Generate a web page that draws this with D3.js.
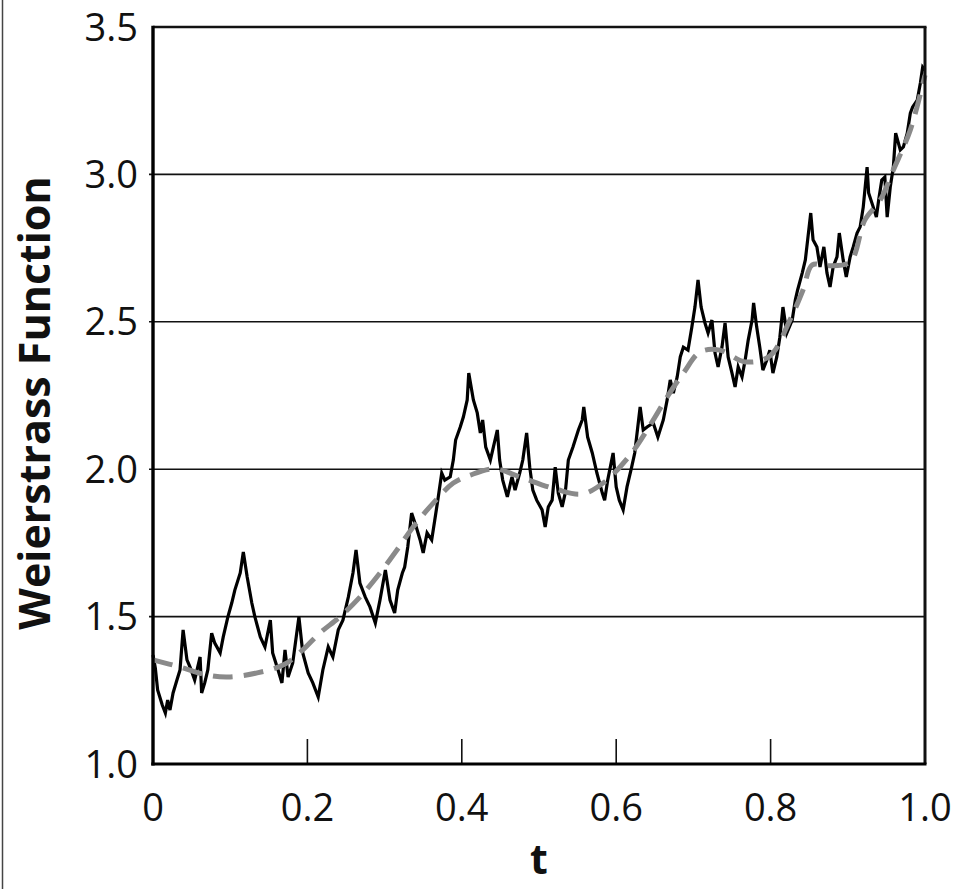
<!DOCTYPE html>
<html>
<head>
<meta charset="utf-8">
<script src="https://cdn.jsdelivr.net/npm/d3@7"></script>
<style>
  html, body { margin: 0; padding: 0; background: #fff; }
  #chart svg { display: block; }
  .tick-label { font-family: "Open Sans", "Noto Sans", sans-serif; font-size: 38px; fill: #111; }
  .axis-title { font-family: "Open Sans", "Noto Sans", sans-serif; font-weight: bold; font-size: 43px; fill: #111; }
</style>
</head>
<body>
<div id="chart"></div>
<script>
// Weierstrass function (black, jagged) + smooth fit (grey dashes)
// values

const xTicks = [0, 0.2, 0.4, 0.6, 0.8, 1.0];
const xTickLabels = ["0", "0.2", "0.4", "0.6", "0.8", "1.0"];
const yTicks = [1.0, 1.5, 2.0, 2.5, 3.0, 3.5];
const yTickLabels = ["1.0", "1.5", "2.0", "2.5", "3.0", "3.5"];

// black curve : t / value
const wT = [
  0, .003, .006, .012, .016, .019, .022, .026, .031, .035, .039, .044, .048, .054, .061, .063, .067, .071, .076, .080,
  .087, .091, .097, .102, .106, .113, .117, .122, .128, .132, .139, .145, .152, .155, .162, .167, .171, .175, .181, .189,
  .194, .201, .207, .214, .220, .227, .233, .240, .246, .253, .259, .263, .268, .275, .281, .288, .294, .301, .307, .313,
  .317, .323, .326, .330, .335, .341, .346, .350, .355, .361, .365, .369, .374, .378, .385, .389, .392, .398, .402, .407,
  .409, .415, .420, .424, .427, .431, .437, .440, .446, .449, .453, .459, .465, .469, .475, .479, .484, .488, .492, .497,
  .504, .508, .512, .517, .521, .525, .530, .534, .538, .544, .551, .556, .558, .563, .569, .575, .582, .585, .589, .596,
  .600, .604, .609, .614, .620, .624, .631, .635, .640, .648, .654, .661, .666, .670, .674, .679, .683, .687, .693, .698,
  .702, .706, .710, .715, .719, .724, .728, .732, .737, .741, .745, .750, .754, .758, .763, .767, .771, .776, .778, .782,
  .786, .790, .795, .799, .803, .808, .812, .816, .821, .828, .832, .835, .841, .845, .848, .852, .855, .860, .864, .869,
  .873, .877, .881, .886, .889, .894, .898, .903, .907, .912, .916, .920, .925, .927, .933, .937, .940, .944, .948, .951,
  .955, .959, .962, .968, .972, .977, .981, .984, .990, .994, .997, 1.0
];
const wV = [
  1.370, 1.326, 1.251, 1.200, 1.173, 1.217, 1.183, 1.241, 1.285, 1.319, 1.455, 1.353, 1.329, 1.285, 1.363, 1.241, 1.275, 1.319, 1.444, 1.410,
  1.377, 1.431, 1.499, 1.546, 1.590, 1.648, 1.719, 1.634, 1.546, 1.499, 1.431, 1.397, 1.488, 1.377, 1.319, 1.275, 1.387, 1.295, 1.343, 1.499,
  1.377, 1.309, 1.275, 1.227, 1.319, 1.397, 1.363, 1.455, 1.488, 1.566, 1.648, 1.726, 1.614, 1.566, 1.533, 1.478, 1.556, 1.658, 1.556, 1.512,
  1.590, 1.648, 1.668, 1.736, 1.851, 1.804, 1.760, 1.716, 1.784, 1.760, 1.828, 1.896, 1.987, 1.963, 1.974, 2.031, 2.099, 2.143, 2.177, 2.235,
  2.326, 2.235, 2.191, 2.123, 2.167, 2.075, 2.031, 2.065, 2.133, 2.031, 1.963, 1.906, 1.974, 1.929, 1.987, 2.031, 2.123, 2.007, 1.929, 1.895,
  1.862, 1.804, 1.872, 1.895, 2.007, 1.919, 1.872, 1.919, 2.031, 2.075, 2.133, 2.167, 2.211, 2.109, 2.055, 1.987, 1.919, 1.895, 1.963, 2.055,
  1.940, 1.895, 1.862, 1.940, 2.007, 2.055, 2.211, 2.133, 2.143, 2.157, 2.109, 2.167, 2.235, 2.303, 2.258, 2.313, 2.381, 2.414, 2.404, 2.482,
  2.550, 2.642, 2.550, 2.496, 2.462, 2.506, 2.394, 2.347, 2.414, 2.496, 2.381, 2.326, 2.279, 2.347, 2.313, 2.370, 2.438, 2.506, 2.564, 2.482,
  2.414, 2.336, 2.370, 2.404, 2.326, 2.381, 2.448, 2.550, 2.462, 2.506, 2.574, 2.608, 2.666, 2.710, 2.778, 2.869, 2.778, 2.754, 2.686, 2.754,
  2.666, 2.618, 2.686, 2.720, 2.801, 2.710, 2.652, 2.720, 2.754, 2.801, 2.822, 2.889, 3.025, 2.937, 2.889, 2.855, 2.913, 2.981, 2.991, 2.855,
  2.957, 3.025, 3.140, 3.083, 3.093, 3.140, 3.208, 3.229, 3.252, 3.310, 3.364, 3.354
];

// grey dashed fit : t / value
const fitT = [0, .035, .070, .097, .135, .171, .194, .216, .242, .268, .294, .316, .337, .363, .389, .411, .443, .475, .521, .556,
  .585, .618, .644, .666, .687, .709, .734, .767, .799, .825, .842, .854, .874, .903, .922, .942, .959, .981, 1.0];
const fitV = [1.353, 1.329, 1.302, 1.295, 1.309, 1.339, 1.387, 1.444, 1.499, 1.566, 1.648, 1.726, 1.804, 1.885, 1.953, 1.980, 2.001, 1.974, 1.933, 1.916,
  1.957, 2.048, 2.150, 2.245, 2.326, 2.398, 2.404, 2.364, 2.384, 2.506, 2.608, 2.693, 2.690, 2.703, 2.845, 2.913, 3.015, 3.151, 3.337];

const W = 957, H = 889;
const margin = { top: 27, right: 32, bottom: 125, left: 153 };

const svg = d3.select("#chart").append("svg")
  .attr("width", W).attr("height", H)
  .attr("viewBox", [0, 0, W, H]);

const x = d3.scaleLinear().domain([0, 1]).range([margin.left, W - margin.right]);
const y = d3.scaleLinear().domain([1, 3.5]).range([H - margin.bottom, margin.top]);

// outer picture border (left edge)
svg.append("line")
  .attr("x1", 2.5).attr("x2", 2.5).attr("y1", 0).attr("y2", H)
  .attr("stroke", "#444").attr("stroke-width", 1.5);

// gridlines
svg.append("g")
  .selectAll("line")
  .data(yTicks.slice(1, -1))
  .join("line")
    .attr("x1", x(0) - 4).attr("x2", x(1))
    .attr("y1", d => y(d)).attr("y2", d => y(d))
    .attr("stroke", "#111").attr("stroke-width", 1.6);

// bottom ticks pointing up into the plot
svg.append("g")
  .selectAll("line")
  .data(xTicks.slice(1, -1))
  .join("line")
    .attr("x1", d => x(d)).attr("x2", d => x(d))
    .attr("y1", y(1)).attr("y2", y(1) - 25)
    .attr("stroke", "#111").attr("stroke-width", 1.6);

// curves
const line = d3.line().x(d => x(d[0])).y(d => y(d[1]));

svg.append("path")
  .datum(d3.zip(wT, wV))
  .attr("d", line)
  .attr("fill", "none")
  .attr("stroke", "#000")
  .attr("stroke-width", 3.2)
  .attr("stroke-linejoin", "miter");

svg.append("path")
  .datum(d3.zip(fitT, fitV))
  .attr("d", line.curve(d3.curveCatmullRom))
  .attr("fill", "none")
  .attr("stroke", "#8a8a8a")
  .attr("stroke-width", 5)
  .attr("stroke-dasharray", "20,11");

// frame
svg.append("line") // top
  .attr("x1", x(0)).attr("x2", x(1) + 1.5).attr("y1", y(3.5)).attr("y2", y(3.5))
  .attr("stroke", "#111").attr("stroke-width", 2.4);
svg.append("line") // right
  .attr("x1", x(1)).attr("x2", x(1)).attr("y1", y(3.5)).attr("y2", y(1))
  .attr("stroke", "#111").attr("stroke-width", 3);
svg.append("line") // left axis
  .attr("x1", x(0)).attr("x2", x(0)).attr("y1", y(3.5) - 1.2).attr("y2", y(1) + 1.5)
  .attr("stroke", "#000").attr("stroke-width", 3.4);
svg.append("line") // bottom axis
  .attr("x1", x(0) - 1.7).attr("x2", x(1) + 1.5).attr("y1", y(1)).attr("y2", y(1))
  .attr("stroke", "#000").attr("stroke-width", 3.2);

// tick labels
svg.append("g")
  .selectAll("text")
  .data(yTicks)
  .join("text")
    .attr("class", "tick-label")
    .attr("x", x(0) - 15)
    .attr("y", d => y(d))
    .attr("dy", "0.36em")
    .attr("text-anchor", "end")
    .text((d, i) => yTickLabels[i]);

svg.append("g")
  .selectAll("text")
  .data(xTicks)
  .join("text")
    .attr("class", "tick-label")
    .attr("x", d => x(d))
    .attr("y", 821)
    .attr("text-anchor", "middle")
    .text((d, i) => xTickLabels[i]);

// axis titles
svg.append("text")
  .attr("class", "axis-title")
  .attr("transform", `translate(50, 403) rotate(-90)`)
  .attr("text-anchor", "middle")
  .text("Weierstrass Function");

svg.append("text")
  .attr("class", "axis-title")
  .attr("x", 539)
  .attr("y", 874)
  .attr("text-anchor", "middle")
  .style("font-size", "41px")
  .text("t");
</script>
</body>
</html>
